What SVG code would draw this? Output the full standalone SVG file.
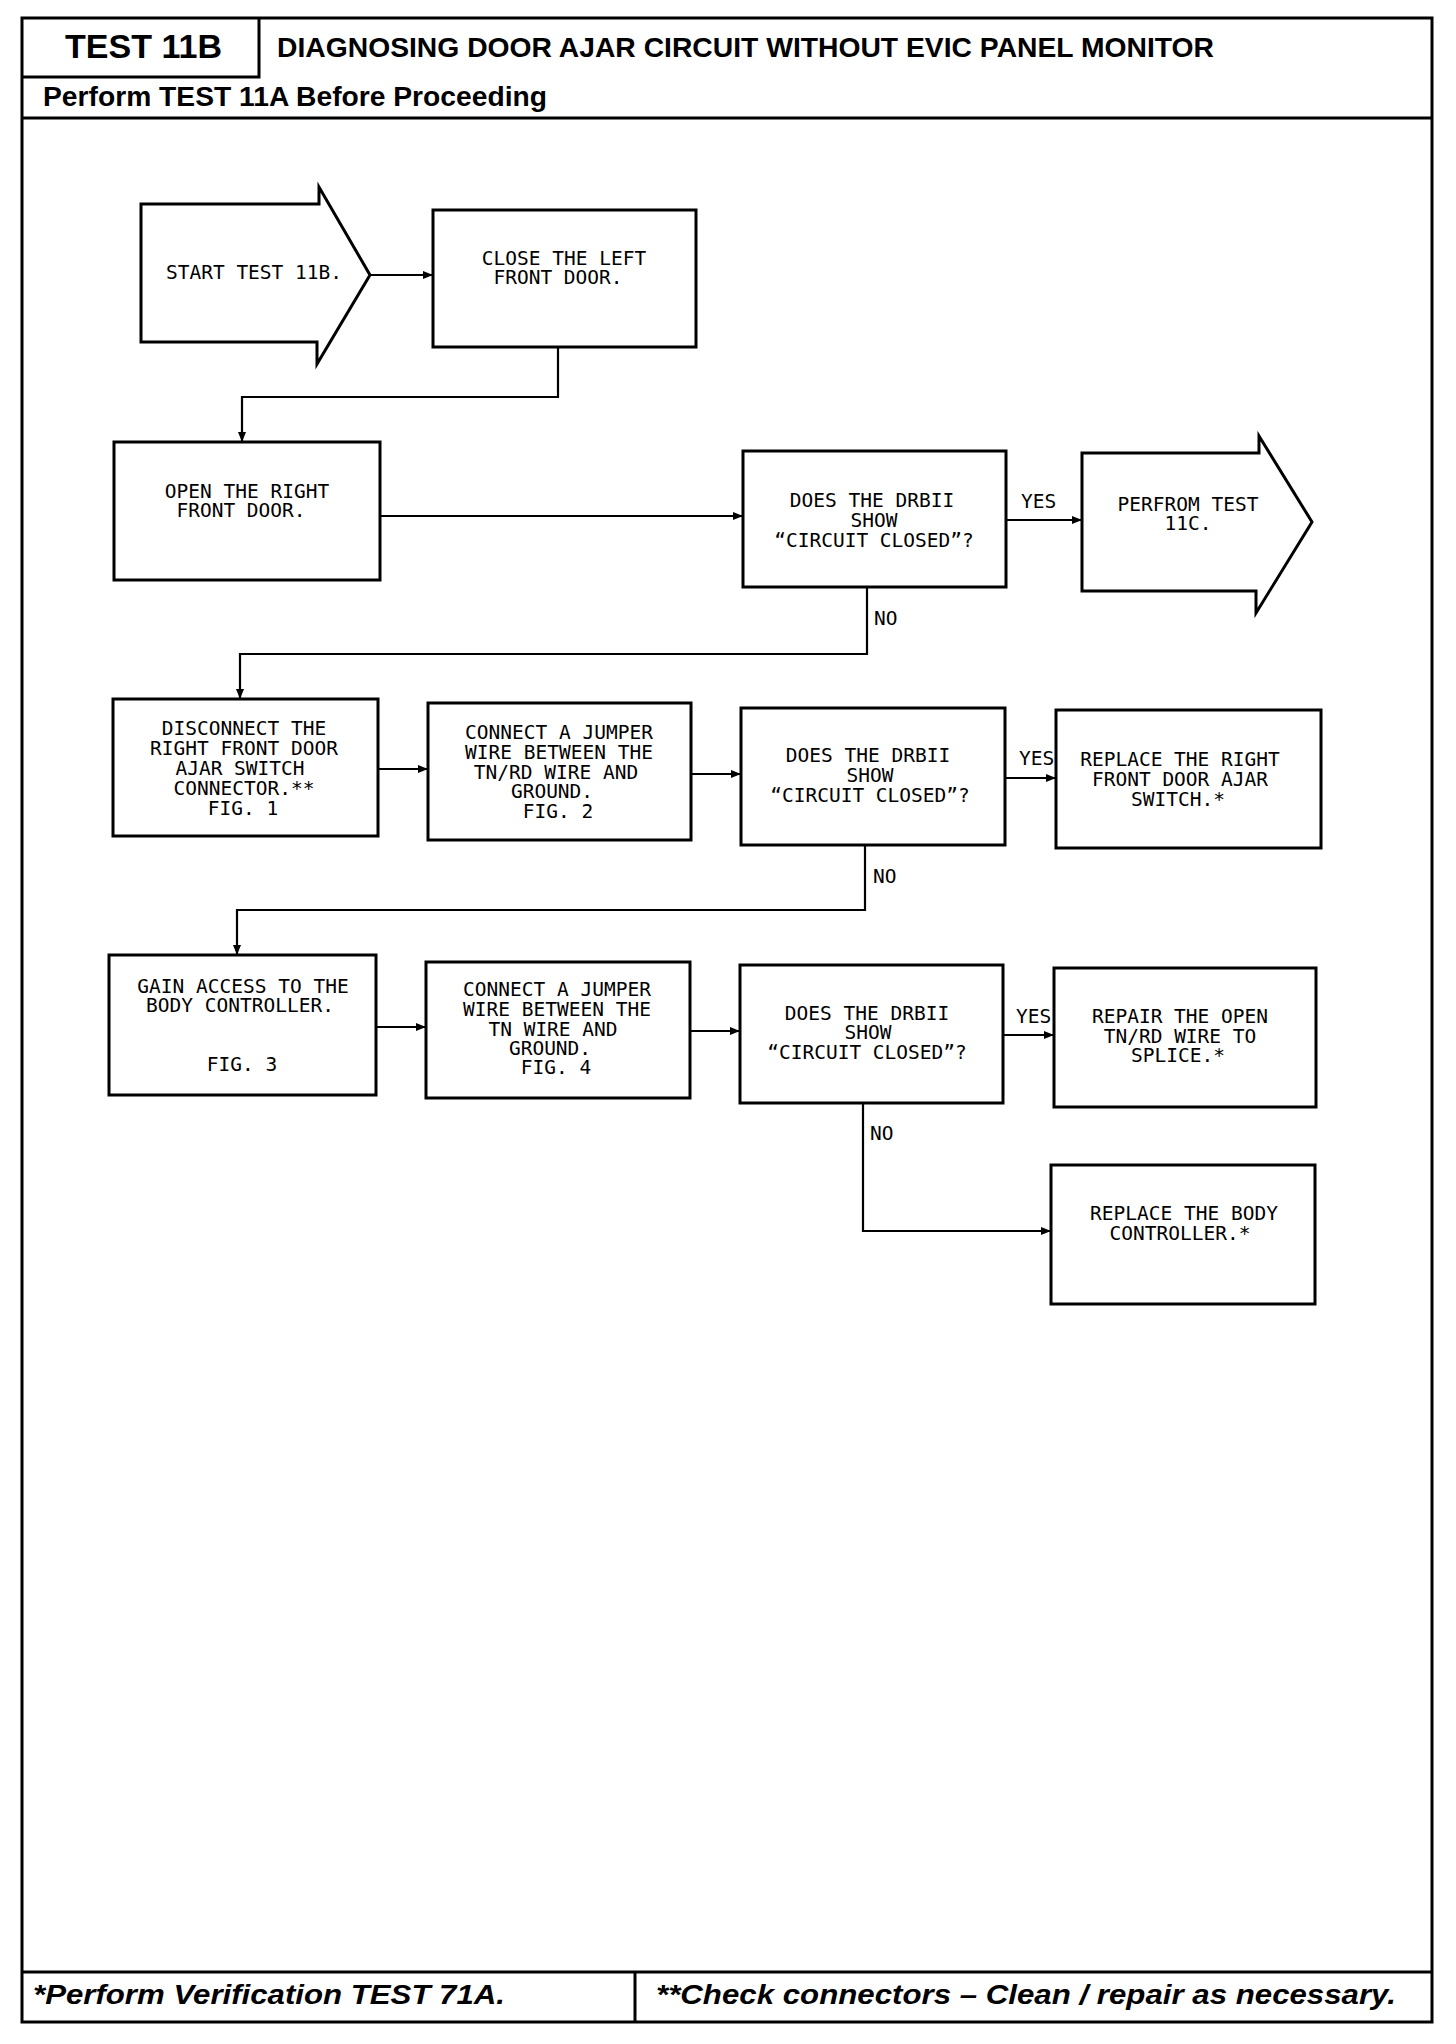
<svg xmlns="http://www.w3.org/2000/svg" width="1456" height="2044" viewBox="0 0 1456 2044">
<style>
.frame{fill:none;stroke:#000;stroke-width:3}
.box{fill:#fff;stroke:#000;stroke-width:3}
.con{fill:none;stroke:#000;stroke-width:2.2}
.t{font-family:"DejaVu Sans Mono","Liberation Mono",monospace;font-size:19.5px;fill:#000;text-anchor:middle}
.lbl{font-family:"DejaVu Sans Mono","Liberation Mono",monospace;font-size:19.5px;fill:#000}
.hd{font-family:"Liberation Sans",Arial,sans-serif;font-weight:bold;fill:#000}
.ft{font-family:"Liberation Sans",Arial,sans-serif;font-weight:bold;font-style:italic;font-size:27px;fill:#000}
</style>
<defs>
<marker id="ah" markerWidth="10" markerHeight="8" refX="10" refY="4" orient="auto" markerUnits="userSpaceOnUse">
<path d="M0,0 L10,4 L0,8 Z" fill="#000"/>
</marker>
</defs>
<rect width="1456" height="2044" fill="#fff"/>
<g id="frame">
<rect class="frame" x="22" y="18" width="1410" height="2004"/>
<path class="frame" d="M259 18 V77 H22"/>
<path class="frame" d="M22 118 H1432"/>
<path class="frame" d="M22 1972 H1432"/>
<path class="frame" d="M635 1972 V2022"/>
<text class="hd" x="65" y="58" font-size="33" textLength="157" lengthAdjust="spacingAndGlyphs">TEST 11B</text>
<text class="hd" x="277" y="57" font-size="28" textLength="937" lengthAdjust="spacingAndGlyphs">DIAGNOSING DOOR AJAR CIRCUIT WITHOUT EVIC PANEL MONITOR</text>
<text class="hd" x="43" y="106" font-size="27" textLength="504" lengthAdjust="spacingAndGlyphs">Perform TEST 11A Before Proceeding</text>
<text class="ft" x="33" y="2004" textLength="472" lengthAdjust="spacingAndGlyphs">*Perform Verification TEST 71A.</text>
<text class="ft" x="656" y="2004" textLength="740" lengthAdjust="spacingAndGlyphs">**Check connectors – Clean / repair as necessary.</text>
</g>
<g id="connectors">
<path class="con" d="M370 275 H433" marker-end="url(#ah)"/>
<path class="con" d="M558 347 V397 H242 V442" marker-end="url(#ah)"/>
<path class="con" d="M380 516 H743" marker-end="url(#ah)"/>
<path class="con" d="M1006 520 H1082" marker-end="url(#ah)"/>
<path class="con" d="M867 587 V654 H240 V699" marker-end="url(#ah)"/>
<path class="con" d="M378 769 H428" marker-end="url(#ah)"/>
<path class="con" d="M691 774 H741" marker-end="url(#ah)"/>
<path class="con" d="M1005 778 H1056" marker-end="url(#ah)"/>
<path class="con" d="M865 845 V910 H237 V955" marker-end="url(#ah)"/>
<path class="con" d="M376 1027 H426" marker-end="url(#ah)"/>
<path class="con" d="M690 1031 H740" marker-end="url(#ah)"/>
<path class="con" d="M1003 1035 H1054" marker-end="url(#ah)"/>
<path class="con" d="M863 1103 V1231 H1051" marker-end="url(#ah)"/>
<text class="lbl" x="1021" y="508">YES</text>
<text class="lbl" x="874" y="625">NO</text>
<text class="lbl" x="1019" y="765">YES</text>
<text class="lbl" x="873" y="883">NO</text>
<text class="lbl" x="1016" y="1023">YES</text>
<text class="lbl" x="870" y="1140">NO</text>
</g>
<g id="start">
<polygon class="box" points="141,204 319,204 319,187 370,275 317,364 317,342 141,342"/>
<text class="t" x="254" y="279">START TEST 11B.</text>
</g>
<g id="close">
<rect class="box" x="433" y="210" width="263" height="137"/>
<text class="t" x="564" y="265">CLOSE THE LEFT</text>
<text class="t" x="558" y="284">FRONT DOOR.</text>
</g>
<g id="open">
<rect class="box" x="114" y="442" width="266" height="138"/>
<text class="t" x="247" y="498">OPEN THE RIGHT</text>
<text class="t" x="241" y="517">FRONT DOOR.</text>
</g>
<g id="does1">
<rect class="box" x="743" y="451" width="263" height="136"/>
<text class="t" x="872" y="507">DOES THE DRBII</text>
<text class="t" x="874" y="527">SHOW</text>
<text class="t" x="874" y="547">“CIRCUIT CLOSED”?</text>
</g>
<g id="perform11c">
<polygon class="box" points="1082,453 1259,453 1259,436 1312,522 1256,613 1256,591 1082,591"/>
<text class="t" x="1188" y="511">PERFROM TEST</text>
<text class="t" x="1188" y="530">11C.</text>
</g>
<g id="disconnect">
<rect class="box" x="113" y="699" width="265" height="137"/>
<text class="t" x="244" y="735">DISCONNECT THE</text>
<text class="t" x="244" y="755">RIGHT FRONT DOOR</text>
<text class="t" x="240" y="775">AJAR SWITCH</text>
<text class="t" x="244" y="795">CONNECTOR.**</text>
<text class="t" x="243" y="815">FIG. 1</text>
</g>
<g id="connect1">
<rect class="box" x="428" y="703" width="263" height="137"/>
<text class="t" x="559" y="739">CONNECT A JUMPER</text>
<text class="t" x="559" y="759">WIRE BETWEEN THE</text>
<text class="t" x="556" y="779">TN/RD WIRE AND</text>
<text class="t" x="552" y="798">GROUND.</text>
<text class="t" x="558" y="818">FIG. 2</text>
</g>
<g id="does2">
<rect class="box" x="741" y="708" width="264" height="137"/>
<text class="t" x="868" y="762">DOES THE DRBII</text>
<text class="t" x="870" y="782">SHOW</text>
<text class="t" x="870" y="802">“CIRCUIT CLOSED”?</text>
</g>
<g id="replaceswitch">
<rect class="box" x="1056" y="710" width="265" height="138"/>
<text class="t" x="1180" y="766">REPLACE THE RIGHT</text>
<text class="t" x="1180" y="786">FRONT DOOR AJAR</text>
<text class="t" x="1178" y="806">SWITCH.*</text>
</g>
<g id="gain">
<rect class="box" x="109" y="955" width="267" height="140"/>
<text class="t" x="243" y="993">GAIN ACCESS TO THE</text>
<text class="t" x="240" y="1012">BODY CONTROLLER.</text>
<text class="t" x="242" y="1071">FIG. 3</text>
</g>
<g id="connect2">
<rect class="box" x="426" y="962" width="264" height="136"/>
<text class="t" x="557" y="996">CONNECT A JUMPER</text>
<text class="t" x="557" y="1016">WIRE BETWEEN THE</text>
<text class="t" x="553" y="1036">TN WIRE AND</text>
<text class="t" x="550" y="1055">GROUND.</text>
<text class="t" x="556" y="1074">FIG. 4</text>
</g>
<g id="does3">
<rect class="box" x="740" y="965" width="263" height="138"/>
<text class="t" x="867" y="1020">DOES THE DRBII</text>
<text class="t" x="868" y="1039">SHOW</text>
<text class="t" x="867" y="1059">“CIRCUIT CLOSED”?</text>
</g>
<g id="repair">
<rect class="box" x="1054" y="968" width="262" height="139"/>
<text class="t" x="1180" y="1023">REPAIR THE OPEN</text>
<text class="t" x="1180" y="1043">TN/RD WIRE TO</text>
<text class="t" x="1178" y="1062">SPLICE.*</text>
</g>
<g id="replacebody">
<rect class="box" x="1051" y="1165" width="264" height="139"/>
<text class="t" x="1184" y="1220">REPLACE THE BODY</text>
<text class="t" x="1180" y="1240">CONTROLLER.*</text>
</g>
</svg>
